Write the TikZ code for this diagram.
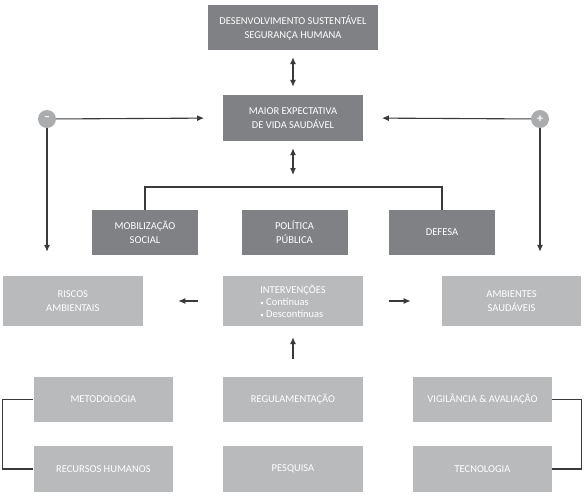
\documentclass[tikz,border=0pt]{standalone}
\usepackage{fontspec}
\setmainfont{Carlito}
\usetikzlibrary{arrows.meta}
\definecolor{boxdark}{HTML}{808184}
\definecolor{boxlight}{HTML}{B9BABC}
\definecolor{linegray}{HTML}{3A3A3A}
\definecolor{signgray}{HTML}{ABACAE}
\tikzset{
  darkbox/.style={fill=boxdark,text=white,minimum width=106pt,minimum height=45pt,inner sep=0pt,align=center,font=\fontsize{10.5}{14}\selectfont},
  lightbox/.style={fill=boxlight,text=white,minimum width=139.5pt,minimum height=45pt,inner sep=0pt,align=center,font=\fontsize{10.5}{14}\selectfont},
  signdot/.style={circle,fill=signgray,text=white,minimum size=18pt,inner sep=0pt,font=\bfseries\fontsize{12}{12}\selectfont},
  arr/.style={draw=linegray,line width=1.1pt,-{Latex[length=7pt,width=6pt]}},
  dblarr/.style={draw=linegray,line width=1.1pt,{Latex[length=7pt,width=6pt]}-{Latex[length=7pt,width=6pt]}},
  link/.style={draw=linegray,line width=1.1pt}
}
\begin{document}
\begin{tikzpicture}[x=1pt,y=-1pt]
\useasboundingbox (0,0) rectangle (587,498);
% top
\node[darkbox,minimum width=170pt] (desenv) at (293,27.5) {DESENVOLVIMENTO SUSTENTÁVEL\\SEGURANÇA HUMANA};
\node[darkbox,minimum width=139.5pt,minimum height=46pt] (maior) at (293,118) {MAIOR EXPECTATIVA\\DE VIDA SAUDÁVEL};
\draw[dblarr,shorten <=7pt,shorten >=8pt] (desenv.south) -- (maior.north);
\node[signdot] (minus) at (47,119) {–};
\node[signdot] (plus) at (540,119) {+};
\draw[arr,shorten >=19pt] (minus) -- (maior.west);
\draw[arr,shorten >=19pt] (plus) -- (maior.east);
% middle row
\node[darkbox] (mobil) at (145,232.5) {MOBILIZAÇÃO\\SOCIAL};
\node[darkbox] (politica) at (294.5,232.5) {POLÍTICA\\PÚBLICA};
\node[darkbox] (defesa) at (442,232.5) {DEFESA};
\coordinate (join) at (293,187);
\draw[dblarr,shorten <=7pt,shorten >=12pt] (maior.south) -- (join);
\draw[link] (mobil.north) -- (mobil.north |- join) -- (defesa.north |- join) -- (defesa.north);
% light row
\node[lightbox,minimum height=50pt] (riscos) at (72.8,301) {RISCOS\\AMBIENTAIS};
\node[lightbox,minimum height=50pt,align=left] (interv) at (293,301) {INTERVENÇÕES\\[-2pt]{\scriptsize•} Contínuas\\[-2pt]{\scriptsize•} Descontínuas};
\node[lightbox,minimum height=50pt] (ambientes) at (511.6,301) {AMBIENTES\\SAUDÁVEIS};
\draw[arr,shorten >=24pt] (minus) -- (minus |- riscos.north);
\draw[arr,shorten >=24pt] (plus) -- (plus |- ambientes.north);
\draw[arr,shorten <=25.5pt,shorten >=35.5pt] (interv.west) -- (riscos.east);
\draw[arr,shorten <=26pt,shorten >=31pt] (interv.east) -- (ambientes.west);
% bottom rows
\node[lightbox] (metod) at (103.4,399.5) {METODOLOGIA};
\node[lightbox] (regul) at (293,399.5) {REGULAMENTAÇÃO};
\node[lightbox] (vigil) at (482.5,399.5) {VIGILÂNCIA \& AVALIAÇÃO};
\node[lightbox,minimum height=46pt] (recursos) at (103.4,469) {RECURSOS HUMANOS};
\node[lightbox,minimum height=46pt] (pesquisa) at (293,469) {PESQUISA};
\node[lightbox,minimum height=46pt] (tecno) at (482.5,469) {TECNOLOGIA};
\draw[arr,shorten <=18pt,shorten >=11pt] (regul.north) -- (interv.south);
\draw[link] (metod.west) -- ++(-30.7,0) |- (recursos.west);
\draw[link] (vigil.east) -- ++(29.1,0) |- (tecno.east);
\end{tikzpicture}
\end{document}
